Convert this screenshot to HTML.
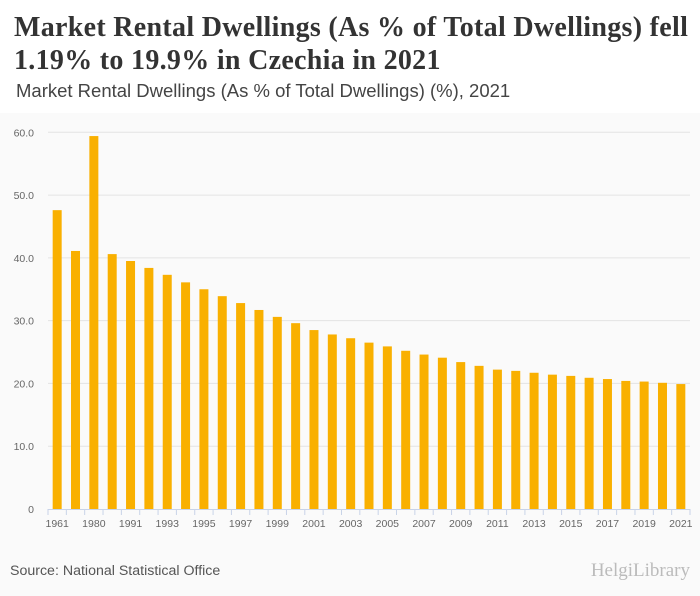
<!DOCTYPE html>
<html><head><meta charset="utf-8"><style>
body{margin:0;width:700px;height:596px;background:#fafafa;font-family:"Liberation Sans",sans-serif;overflow:hidden;position:relative}
#hdr{position:absolute;left:0;top:0;width:700px;height:113px;background:#fff}
#title{position:absolute;left:14px;top:11px;font-family:"Liberation Serif",serif;font-weight:bold;font-size:28px;letter-spacing:0.3px;line-height:33px;color:#333;width:686px}
#sub{position:absolute;left:16px;top:80px;font-size:18.5px;color:#444}
#src{position:absolute;left:10px;top:563px;font-size:14.2px;color:#555}
#logo{position:absolute;right:10px;top:560px;font-size:19px;color:#bbb;font-family:"Liberation Serif",serif}
</style></head><body>
<div id="hdr"></div>
<div id="title">Market Rental Dwellings (As % of Total Dwellings) fell 1.19% to 19.9% in Czechia in 2021</div>
<div id="sub">Market Rental Dwellings (As % of Total Dwellings) (%), 2021</div>
<svg id="chart" width="700" height="596" style="position:absolute;left:0;top:0"></svg>
<div id="src">Source: National Statistical Office</div>
<div id="logo">HelgiLibrary</div>
<script>
const categories=["1961","1970","1980","1990","1991","1992","1993","1994","1995","1996","1997","1998","1999","2000","2001","2002","2003","2004","2005","2006","2007","2008","2009","2010","2011","2012","2013","2014","2015","2016","2017","2018","2019","2020","2021"];
const values=[47.6,41.1,59.4,40.6,39.5,38.4,37.3,36.1,35.0,33.9,32.8,31.7,30.6,29.6,28.5,27.8,27.2,26.5,25.9,25.2,24.6,24.1,23.4,22.8,22.2,22.0,21.7,21.4,21.2,20.9,20.7,20.4,20.3,20.1,19.9];
const yTicks=[0,10,20,30,40,50,60];
const yTickLabels=["0","10.0","20.0","30.0","40.0","50.0","60.0"];
const NS="http://www.w3.org/2000/svg";
const svg=document.getElementById('chart');
const x0=48,x1=690,y0=509,yTop=132.3;
const slot=(x1-x0)/categories.length;
const y=v=>y0-(v/60)*(y0-yTop);
const xc=i=>x0+slot*(i+0.5);
function mk(t,a){const e=document.createElementNS(NS,t);for(const k in a)e.setAttribute(k,a[k]);svg.appendChild(e);return e;}
yTicks.forEach((t,i)=>{
  if(t>0){const g=mk('line',{x1:x0,x2:x1,y1:y(t),y2:y(t),stroke:'#e3e3e3','stroke-width':1});
  
  }
  const l=mk('text',{x:34,y:y(t)+4,'text-anchor':'end','font-size':10.5,fill:'#666','font-family':'Liberation Sans'});
  l.textContent=yTickLabels[i];
  
  
});
values.forEach((v,i)=>{
  const b=mk('rect',{x:xc(i)-4.5,y:y(v),width:9,height:y0-y(v),fill:'#f9b000'});
  
  
});
const ax=mk('line',{x1:x0,x2:x1,y1:y0+0.5,y2:y0+0.5,stroke:'#c8d3e8','stroke-width':1});


for(let i=0;i<=categories.length;i++){
  const tk=mk('line',{x1:x0+slot*i,x2:x0+slot*i,y1:y0,y2:y0+6,stroke:'#c8d3e8'});
  
  
}
categories.forEach((c,i)=>{
  if(i%2)return;
  const l=mk('text',{x:xc(i),y:y0+18,'text-anchor':'middle','font-size':10.5,fill:'#666','font-family':'Liberation Sans'});
  l.textContent=c;
  
  
});
</script>
</body></html>
